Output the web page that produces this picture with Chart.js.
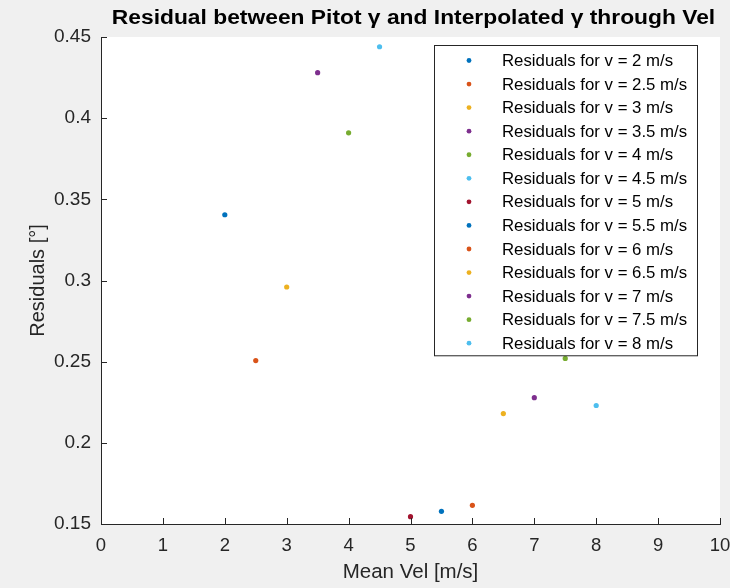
<!DOCTYPE html>
<html>
<head>
<meta charset="utf-8">
<script src="https://cdn.jsdelivr.net/npm/chart.js@4.4.1/dist/chart.umd.min.js"></script>
<style>
  html, body { margin: 0; padding: 0; background: #f0f0f0; }
  canvas { display: block; }
</style>
</head>
<body>
<canvas id="residualChart" width="730" height="588"></canvas>
<script>
// Mean velocity of each run and the residual left after interpolation
const speeds = [2, 2.5, 3, 3.5, 4, 4.5, 5, 5.5, 6, 6.5, 7, 7.5, 8];
const residuals = [0.3405, 0.2507, 0.2960, 0.4280, 0.3910, 0.4440, 0.1545, 0.1578, 0.1615, 0.2180, 0.2278, 0.2520, 0.2230];
const seriesLabels = speeds.map(v => `Residuals for v = ${v} m/s`);

// MATLAB default line colour order
const colorOrder = ['#0072BD', '#D95319', '#EDB120', '#7E2F8E', '#77AC30', '#4DBEEE', '#A2142F'];

const xTicks = [0, 1, 2, 3, 4, 5, 6, 7, 8, 9, 10];
const yTicks = [0.15, 0.2, 0.25, 0.3, 0.35, 0.4, 0.45];
const titleText = 'Residual between Pitot γ and Interpolated γ through Vel';

const axisColor = '#262626';
const fontFamily = '"Liberation Sans", Arial, Helvetica, sans-serif';

const datasets = speeds.map((v, i) => ({
    label: seriesLabels[i],
    data: [{ x: v, y: residuals[i] }],
    backgroundColor: colorOrder[i % colorOrder.length],
    borderWidth: 0,
    pointRadius: 2.6,
    pointHoverRadius: 2.6
}));

// white axes area, title, inward tick marks and a boxed legend inside the plot
const matlabAxes = {
    id: 'matlabAxes',
    beforeDraw(chart) {
        const { ctx, chartArea: a } = chart;
        ctx.save();
        ctx.fillStyle = '#ffffff';
        ctx.fillRect(a.left, a.top, a.right - a.left, a.bottom - a.top);

        // bold title, slightly widened like the exported figure font
        const cx = (a.left + a.right) / 2 + 3;
        ctx.translate(cx, 19);
        ctx.scale(1.17, 1);
        ctx.font = 'bold 19.5px ' + fontFamily;
        ctx.fillStyle = '#000000';
        ctx.textAlign = 'center';
        ctx.textBaseline = 'middle';
        ctx.fillText(titleText, 0, 0);
        ctx.restore();
    },
    afterDraw(chart) {
        const { ctx, chartArea: a, scales } = chart;
        const tickLen = 6;
        ctx.save();
        ctx.strokeStyle = axisColor;
        ctx.lineWidth = 1;
        ctx.beginPath();
        xTicks.forEach(t => {
            const px = Math.round(scales.x.getPixelForValue(t)) + 0.5;
            ctx.moveTo(px, a.bottom);
            ctx.lineTo(px, a.bottom - tickLen);
        });
        yTicks.forEach(t => {
            const py = Math.round(scales.y.getPixelForValue(t)) + 0.5;
            ctx.moveTo(a.left, py);
            ctx.lineTo(a.left + tickLen, py);
        });
        ctx.stroke();

        // legend
        const boxW = 263, rowH = 23.56;
        const boxH = rowH * datasets.length + 4;
        const bx = Math.round(a.right - boxW - 23) + 0.5;
        const by = Math.round(a.top + 8) + 0.5;
        ctx.fillStyle = '#ffffff';
        ctx.fillRect(bx, by, boxW, boxH);
        ctx.strokeStyle = axisColor;
        ctx.strokeRect(bx, by, boxW, boxH);
        ctx.font = '16.8px ' + fontFamily;
        ctx.textBaseline = 'middle';
        ctx.textAlign = 'left';
        chart.data.datasets.forEach((ds, i) => {
            const cy = by + 15 + i * rowH;
            ctx.fillStyle = ds.backgroundColor;
            ctx.beginPath();
            ctx.arc(bx + 34.5, cy, 2.4, 0, Math.PI * 2);
            ctx.fill();
            ctx.fillStyle = '#000000';
            ctx.fillText(ds.label, bx + 67.5, cy + 1);
        });
        ctx.restore();
    }
};

new Chart(document.getElementById('residualChart'), {
    type: 'scatter',
    data: { datasets },
    plugins: [matlabAxes],
    options: {
        responsive: false,
        animation: false,
        events: [],
        layout: { padding: { top: 37, right: 0, bottom: 0, left: 0 } },
        plugins: {
            legend: { display: false },
            tooltip: { enabled: false },
            title: { display: false }
        },
        scales: {
            x: {
                type: 'linear',
                min: 0,
                max: 10,
                grid: { display: false, drawTicks: false },
                border: { display: true, color: axisColor, width: 1 },
                afterFit(scale) {
                    scale.height = 64;
                    scale.paddingRight = 10;
                },
                afterBuildTicks(scale) { scale.ticks = xTicks.map(v => ({ value: v })); },
                ticks: {
                    color: axisColor,
                    padding: 11,
                    maxRotation: 0,
                    font: { family: fontFamily, size: 18.5 }
                },
                title: {
                    display: true,
                    text: 'Mean Vel [m/s]',
                    color: axisColor,
                    font: { family: fontFamily, size: 20.5 },
                    padding: { top: 0, bottom: 3 }
                }
            },
            y: {
                type: 'linear',
                min: 0.15,
                max: 0.45,
                grid: { display: false, drawTicks: false },
                border: { display: true, color: axisColor, width: 1 },
                afterFit(scale) { scale.width = 101; },
                afterBuildTicks(scale) { scale.ticks = yTicks.map(v => ({ value: v })); },
                ticks: {
                    color: axisColor,
                    padding: 10,
                    font: { family: fontFamily, size: 19 },
                    callback: v => String(Math.round(v * 100) / 100)
                },
                title: {
                    display: true,
                    text: 'Residuals [°]',
                    color: axisColor,
                    font: { family: fontFamily, size: 20 },
                    padding: { top: 26, bottom: 0 }
                }
            }
        }
    }
});
</script>
</body>
</html>
